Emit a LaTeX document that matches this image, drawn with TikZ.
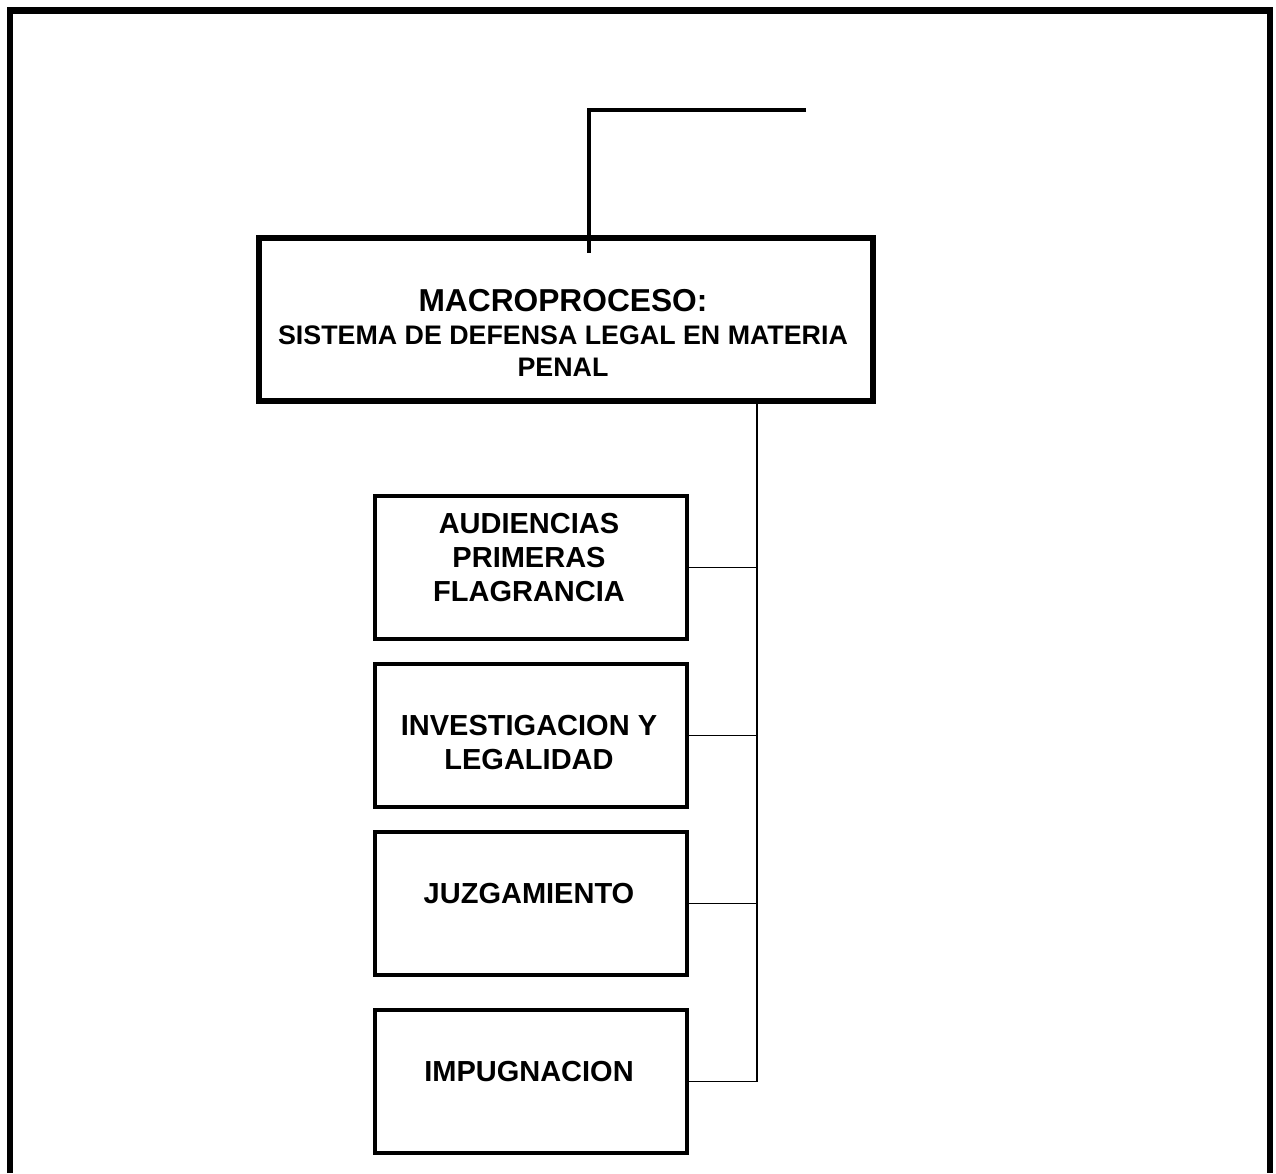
\documentclass[tikz,border=0pt]{standalone}
\usepackage{fontspec}
\setmainfont{Liberation Sans}
\begin{document}
\begin{tikzpicture}[x=1pt,y=-1pt,
  frame/.style={line width=6.5pt,line join=miter},
  macrobox/.style={draw,line width=6pt,minimum width=614pt,minimum height=163pt,inner sep=0pt,anchor=north west},
  childbox/.style={draw,line width=4pt,minimum width=312pt,minimum height=143pt,inner sep=0pt,anchor=north west},
  topline/.style={line width=4pt,line join=miter},
  conn/.style={line width=1.8pt},
  titletext/.style={anchor=base,inner sep=0pt,font=\bfseries\fontsize{31.7}{36}\selectfont},
  subtext/.style={anchor=base,inner sep=0pt,align=center,font=\bfseries\fontsize{26.8}{32}\selectfont},
  childtext/.style={anchor=base,inner sep=0pt,align=center,font=\bfseries\fontsize{29}{34}\selectfont}
]
\useasboundingbox (0,0) rectangle (1276,1173);
\fill[white] (0,0) rectangle (1276,1173);

% outer open frame
\coordinate (fbl) at (10,1173);
\coordinate (ftl) at (10,10.5);
\coordinate (ftr) at (1270,10.5);
\coordinate (fbr) at (1270,1173);
\draw[frame] (fbl) -- (ftl) -- (ftr) -- (fbr);

% macro box
\node[macrobox] (macro) at (256,235) {};
\node[titletext] (mtitle) at (563,311) {MACROPROCESO:};
\node[subtext] (msub) at (563,376.5) {SISTEMA DE DEFENSA LEGAL EN MATERIA\\PENAL};

% top connector
\coordinate (topEnd) at (806,110);
\coordinate (corner) at (589,110);
\coordinate (stub) at (589,253);
\draw[topline] (topEnd) -- (corner) -- (stub);

% child boxes
\node[childbox] (b1) at (373,494) {};
\node[childbox] (b2) at (373,662) {};
\node[childbox] (b3) at (373,830) {};
\node[childbox] (b4) at (373,1008) {};

\node[childtext] (t1) at (529,601) {AUDIENCIAS\\PRIMERAS\\FLAGRANCIA};
\node[childtext] (t2) at (529,769.5) {INVESTIGACION Y\\LEGALIDAD};
\node[childtext] (t3) at (529,903.5) {JUZGAMIENTO};
\node[childtext] (t4) at (529,1081.5) {IMPUGNACION};

% bus
\coordinate (bus) at (757,398);
\draw[conn] (macro.south -| bus) -- (b4.east -| bus);
\draw[conn] (b1.east) -- (b1.east -| bus);
\draw[conn] (b2.east) -- (b2.east -| bus);
\draw[conn] (b3.east) -- (b3.east -| bus);
\draw[conn] (b4.east) -- (b4.east -| bus);
\end{tikzpicture}
\end{document}
